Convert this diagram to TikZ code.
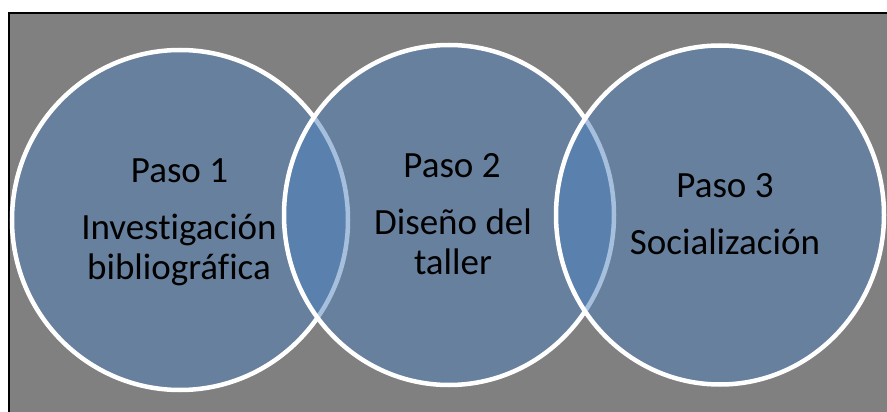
\documentclass[tikz,border=0pt]{standalone}
\usepackage{fontspec}
\setmainfont[Ligatures=NoCommon]{Carlito}
\usetikzlibrary{shapes.geometric}
\definecolor{bgray}{RGB}{128,128,128}
\definecolor{accentblue}{RGB}{79,129,189}
\tikzset{
  venn/.style={ellipse, draw=white, line width=4.5pt, fill=accentblue, fill opacity=0.5, draw opacity=1, inner sep=0pt},
  lbl/.style={anchor=base, inner sep=0pt, text=black, font=\fontsize{37}{40}\selectfont}
}
\begin{document}
\begin{tikzpicture}[x=1pt,y=-1pt]
\useasboundingbox (0,0) rectangle (887,412);
\fill[white] (0,0) rectangle (887,412);
\fill[bgray] (9,13) rectangle (887,412);
\draw[black, line width=2pt] (9,412) -- (9,13) -- (887,13);
\node[venn, minimum width=336pt, minimum height=340pt] (c1) at (180,220) {};
\node[venn, minimum width=330pt, minimum height=340pt] (c2) at (449,215) {};
\node[venn, minimum width=328pt, minimum height=339pt] (c3) at (720,215) {};
\node[lbl] (p1) at (179.5,182) {Paso 1};
\node[lbl] (d1a) at (179,239) {Investigación};
\node[lbl] (d1b) at (179,279) {bibliográfica};
\node[lbl] (p2) at (452,177) {Paso 2};
\node[lbl] (d2a) at (453,234) {Diseño del};
\node[lbl] (d2b) at (453,274) {taller};
\node[lbl] (p3) at (725,197) {Paso 3};
\node[lbl] (d3) at (725,254) {Socialización};
\end{tikzpicture}
\end{document}
